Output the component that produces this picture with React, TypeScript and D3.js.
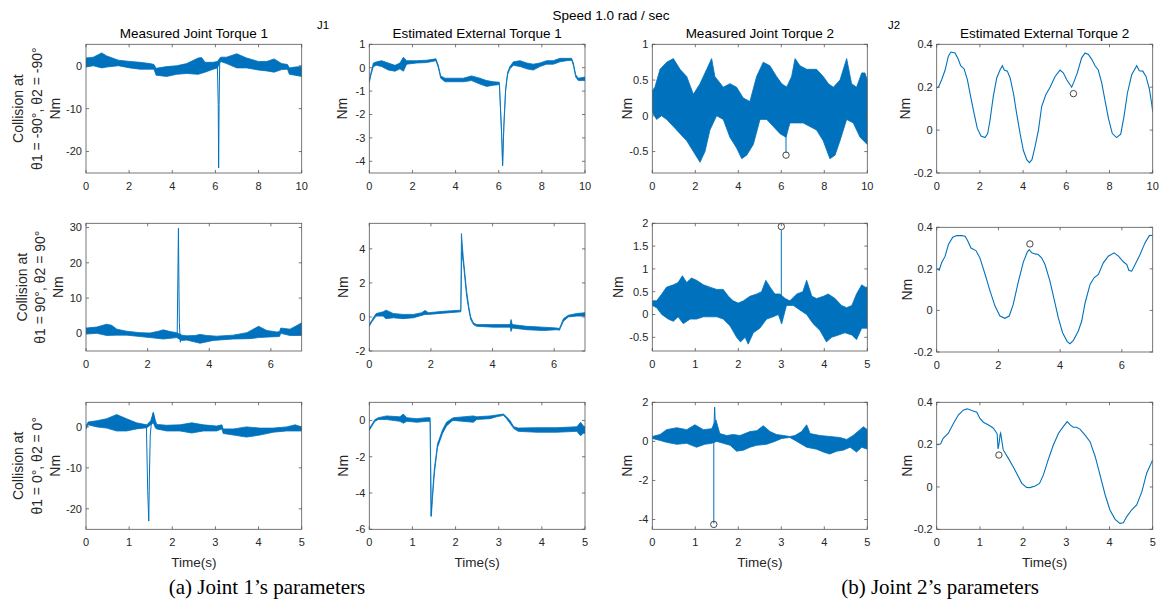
import React from 'react';
import * as d3 from 'd3';

type P = [number, number];

// ---------------- text ----------------
const figTitle = 'Speed 1.0 rad / sec';
const colTitles = ['Measured Joint Torque 1', 'Estimated External Torque 1', 'Measured Joint Torque 2', 'Estimated External Torque 2'];
const rowLabels = [
  ['Collision at', 'θ1 = -90°, θ2 = -90°', 'Nm'],
  ['Collision at', 'θ1 = 90°, θ2 = 90°', 'Nm'],
  ['Collision at', 'θ1 = 0°, θ2 = 0°', 'Nm'],
];
const captions = ['(a) Joint 1’s parameters', '(b) Joint 2’s parameters'];

// ---------------- axes domains / ticks ----------------
const xDomains: [number, number][] = [[0, 10], [0, 7], [0, 5]];
const xTicksRow = [[0, 2, 4, 6, 8, 10], [0, 2, 4, 6], [0, 1, 2, 3, 4, 5]];
const r2c3XDomain: [number, number] = [0, 5];
const r2c3XTicks = [0, 1, 2, 3, 4, 5];
const yDomains: [number, number][][] = [
  [[-25, 5], [-4.5, 1], [-0.8, 1], [-0.2, 0.4]],
  [[-5, 31.2], [-2, 5.5], [-0.8, 2], [-0.2, 0.4]],
  [[-25, 6], [-6, 1], [-4.5, 2], [-0.2, 0.4]],
];
const yTicks: number[][][] = [
  [[-20, -10, 0], [-4, -3, -2, -1, 0, 1], [-0.5, 0, 0.5, 1], [-0.2, 0, 0.2, 0.4]],
  [[0, 10, 20, 30], [-2, 0, 2, 4], [-0.5, 0, 0.5, 1, 1.5, 2], [-0.2, 0, 0.2, 0.4]],
  [[-20, -10, 0], [-6, -4, -2, 0], [-4, -2, 0, 2], [-0.2, 0, 0.2, 0.4]],
];

// ---------------- row 1 data ----------------
const r1c1Hi: P[] = [[0,1.8],[0.34,2],[0.73,3],[0.96,2.3],[1.5,1.3],[2.04,1],[2.5,0.8],[2.97,0.5],[3.15,0.3],[3.25,-0.6],[3.74,-0.2],[4.2,0],[4.67,0.5],[5.2,1.8],[5.36,1.9],[5.52,0.8],[5.9,0.8],[6.09,1],[6.24,2],[6.52,2],[6.99,2.8],[7.45,1.8],[7.99,1],[8.38,1],[8.72,1.6],[9.07,0.5],[9.34,0.3],[9.43,-0.5],[9.69,-0.3],[10,-0.2]];
const r1c1Lo: P[] = [[0,-0.3],[0.34,0],[0.73,-0.5],[0.96,-0.3],[1.5,0],[2.04,-0.5],[2.5,-0.8],[2.97,-0.8],[3.15,-0.8],[3.25,-2.2],[3.74,-2.5],[4.2,-2],[4.67,-1.8],[5.2,-2],[5.52,-1.5],[5.9,-0.8],[6.09,-0.5],[6.24,1],[6.52,0.5],[6.99,-0.5],[7.45,-0.5],[7.99,-1],[8.38,-1.2],[8.72,-1.5],[9.07,-0.9],[9.34,-0.8],[9.43,-2],[9.69,-2.2],[10,-2.5]];
const r1c1Spike: P[] = [[6.09,0.3],[6.13,-9],[6.15,-23.8],[6.17,-9],[6.2,1],[6.24,1.8]];

const r1c2Hi: P[] = [[0,-0.55],[0.08,-0.2],[0.19,0.2],[0.34,0.25],[0.57,0.3],[0.88,0.2],[1.19,0.1],[1.42,0.2],[1.58,0.45],[1.73,0.3],[2.19,0.3],[2.66,0.32],[3.09,0.38],[3.2,0.1],[3.31,-0.35],[3.51,-0.45],[3.9,-0.45],[4.36,-0.45],[4.74,-0.35],[5.13,-0.45],[5.44,-0.55],[5.75,-0.6],[6.03,-0.62],[6.14,-2.9],[6.18,-4.15],[6.24,-2.4],[6.32,-0.9],[6.41,-0.2],[6.52,0.05],[6.68,0.25],[6.99,0.3],[7.3,0.2],[7.6,0.15],[7.91,0.2],[8.22,0.3],[8.53,0.3],[8.84,0.4],[9.15,0.4],[9.38,0.4],[9.46,0.2],[9.57,-0.3],[9.69,-0.45],[10,-0.4]];
const r1c2Lo: P[] = [[0,-0.62],[0.08,-0.3],[0.19,0.05],[0.34,0.1],[0.57,0.05],[0.88,-0.1],[1.19,-0.15],[1.42,-0.05],[1.58,-0.15],[1.73,0.15],[2.19,0.2],[2.66,0.22],[3.09,0.3],[3.2,0],[3.31,-0.45],[3.51,-0.6],[3.9,-0.6],[4.36,-0.6],[4.74,-0.55],[5.13,-0.7],[5.44,-0.8],[5.75,-0.75],[6.03,-0.72],[6.14,-3],[6.18,-4.2],[6.24,-2.5],[6.32,-1.0],[6.41,-0.3],[6.52,-0.05],[6.68,0.1],[6.99,0.05],[7.3,-0.05],[7.6,-0.1],[7.91,0.05],[8.22,0.15],[8.53,0.15],[8.84,0.25],[9.15,0.3],[9.38,0.32],[9.46,0.1],[9.57,-0.4],[9.69,-0.55],[10,-0.55]];

const r1c3Hi: P[] = [[0,0.35],[0.12,0.4],[0.36,0.65],[0.67,0.75],[0.98,0.8],[1.29,0.65],[1.6,0.55],[1.91,0.3],[2.22,0.45],[2.53,0.65],[2.76,0.8],[2.91,0.55],[3.3,0.4],[3.61,0.45],[3.92,0.4],[4.23,0.25],[4.54,0.2],[4.85,0.55],[5.16,0.75],[5.47,0.7],[5.78,0.55],[6.02,0.45],[6.25,0.4],[6.48,0.55],[6.64,0.8],[6.87,0.7],[7.18,0.65],[7.64,0.65],[7.95,0.55],[8.19,0.45],[8.42,0.4],[8.73,0.5],[9.04,0.8],[9.27,0.45],[9.5,0.4],[9.74,0.6],[9.89,0.6],[10,0.5]];
const r1c3Lo: P[] = [[0,0.05],[0.2,-0.05],[0.43,0],[0.67,-0.05],[0.98,-0.15],[1.29,-0.25],[1.6,-0.35],[1.91,-0.5],[2.22,-0.65],[2.45,-0.5],[2.68,-0.2],[2.99,0],[3.3,-0.05],[3.61,-0.3],[3.92,-0.45],[4.16,-0.6],[4.39,-0.55],[4.7,-0.4],[5.01,-0.05],[5.32,-0.05],[5.63,-0.15],[5.94,-0.25],[6.22,-0.3],[6.4,-0.1],[6.71,-0.1],[7.02,-0.1],[7.33,-0.15],[7.64,-0.2],[7.95,-0.35],[8.26,-0.6],[8.5,-0.55],[8.73,-0.35],[9.04,-0.05],[9.35,-0.1],[9.66,-0.3],[10,-0.4]];
const r1c3Spike: P[] = [[6.22,0.42],[6.22,-0.52]];
const r1c3Mark: P = [6.22, -0.55];

const r1c4Line: P[] = [[0,0.196],[0.08,0.2],[0.23,0.235],[0.39,0.28],[0.54,0.345],[0.66,0.364],[0.85,0.36],[1.0,0.33],[1.11,0.3],[1.27,0.285],[1.42,0.235],[1.57,0.157],[1.73,0.078],[1.88,0.008],[2.05,-0.028],[2.24,-0.035],[2.36,-0.016],[2.47,0.047],[2.62,0.157],[2.78,0.243],[2.93,0.28],[3.04,0.3],[3.13,0.28],[3.27,0.275],[3.4,0.243],[3.55,0.173],[3.7,0.078],[3.86,-0.016],[4.01,-0.094],[4.17,-0.138],[4.29,-0.152],[4.41,-0.138],[4.55,-0.078],[4.71,0.0],[4.86,0.11],[5.05,0.165],[5.25,0.2],[5.48,0.25],[5.71,0.28],[5.86,0.267],[6.02,0.235],[6.25,0.2],[6.36,0.227],[6.51,0.267],[6.71,0.337],[6.87,0.36],[7.02,0.353],[7.18,0.33],[7.33,0.3],[7.48,0.28],[7.64,0.22],[7.79,0.14],[7.95,0.055],[8.13,-0.016],[8.33,-0.035],[8.52,-0.019],[8.67,0.063],[8.83,0.173],[9.03,0.259],[9.15,0.28],[9.26,0.3],[9.38,0.277],[9.54,0.275],[9.69,0.25],[9.85,0.19],[9.95,0.125],[10,0.086]];
const r1c4Mark: P = [6.33, 0.17];

// ---------------- row 2 data ----------------
const r2c1Hi: P[] = [[0,1.5],[0.35,1.8],[0.67,2.6],[0.83,2.3],[1.0,1.2],[1.32,0.6],[1.75,0.2],[2.08,0.1],[2.35,0.6],[2.51,1.0],[2.73,0.5],[2.94,0.2],[3.11,-0.5],[3.27,-0.7],[3.54,-0.6],[3.7,-0.3],[3.92,-0.6],[4.24,-0.8],[4.78,-0.5],[5.22,0.2],[5.6,2.0],[5.87,0.8],[6.19,0.4],[6.28,0.5],[6.32,1.5],[6.62,1.2],[6.84,2.2],[7,3.0]];
const r2c1Lo: P[] = [[0,-0.2],[0.35,0],[0.67,-0.6],[1.0,-0.5],[1.32,-0.5],[1.75,-0.9],[2.08,-1.2],[2.51,-1.6],[2.94,-1.2],[3.11,-2.0],[3.27,-1.9],[3.7,-2.8],[4.13,-2.0],[4.78,-1.6],[5.32,-1.5],[5.6,-1.2],[5.97,-1.0],[6.28,-0.9],[6.32,0],[6.62,-0.6],[7,-0.6]];
const r2c1Spike: P[] = [[2.96,0],[3.0,29.8],[3.02,10],[3.03,3],[3.06,-2.5],[3.1,-1]];

const r2c2Hi: P[] = [[0,-0.45],[0.08,-0.2],[0.22,0.2],[0.45,0.3],[0.54,0.4],[0.78,0.2],[1.1,0.15],[1.43,0.15],[1.7,0.25],[1.81,0.38],[1.92,0.25],[2.4,0.33],[2.97,0.4],[2.99,4.9],[3.05,3.5],[3.11,2.4],[3.16,1.5],[3.23,0.6],[3.29,0],[3.38,-0.35],[3.48,-0.45],[4.03,-0.45],[4.57,-0.45],[4.6,-0.15],[4.64,-0.45],[5.11,-0.55],[5.65,-0.6],[6.08,-0.65],[6.17,-0.68],[6.3,-0.1],[6.46,0.1],[6.73,0.2],[7,0.25]];
const r2c2Lo: P[] = [[0,-0.55],[0.08,-0.3],[0.22,0.05],[0.45,0.05],[0.54,-0.1],[0.78,-0.05],[1.1,-0.1],[1.43,-0.05],[1.81,0.15],[1.92,0.15],[2.4,0.22],[2.97,0.3],[3.0,3.8],[3.05,3.2],[3.11,2.1],[3.16,1.2],[3.23,0.4],[3.29,-0.15],[3.38,-0.45],[3.48,-0.55],[4.03,-0.6],[4.57,-0.6],[4.6,-0.85],[4.64,-0.65],[5.11,-0.75],[5.65,-0.8],[6.08,-0.75],[6.17,-0.78],[6.3,-0.25],[6.46,0],[6.73,0.05],[7,0.05]];

const r2c3Hi: P[] = [[0,0.3],[0.1,0.3],[0.22,0.45],[0.33,0.6],[0.49,0.65],[0.6,0.7],[0.7,0.85],[0.8,0.7],[0.91,0.8],[1.03,0.75],[1.19,0.65],[1.34,0.6],[1.5,0.55],[1.65,0.55],[1.77,0.4],[1.88,0.3],[2.0,0.25],[2.12,0.3],[2.27,0.4],[2.43,0.45],[2.54,0.5],[2.64,0.75],[2.74,0.6],[2.85,0.45],[2.97,0.45],[3.09,0.35],[3.2,0.3],[3.36,0.45],[3.5,0.5],[3.59,0.75],[3.71,0.4],[3.82,0.35],[3.98,0.4],[4.09,0.45],[4.25,0.35],[4.4,0.2],[4.52,0.15],[4.64,0.2],[4.75,0.45],[4.87,0.65],[4.95,0.6],[5,0.6]];
const r2c3Lo: P[] = [[0,0.2],[0.1,0.15],[0.22,0],[0.37,-0.1],[0.49,-0.15],[0.6,-0.05],[0.72,-0.2],[0.88,-0.1],[1.03,-0.1],[1.19,-0.05],[1.34,-0.05],[1.5,-0.05],[1.65,-0.1],[1.81,-0.25],[1.96,-0.5],[2.05,-0.6],[2.16,-0.5],[2.23,-0.65],[2.35,-0.4],[2.5,-0.3],[2.66,-0.1],[2.81,-0.05],[2.93,0],[3.01,-0.2],[3.12,0.2],[3.28,0.2],[3.43,0.1],[3.59,0],[3.74,-0.2],[3.9,-0.35],[4.05,-0.6],[4.17,-0.5],[4.33,-0.45],[4.48,-0.4],[4.64,-0.45],[4.75,-0.55],[4.87,-0.3],[5,-0.3]];
const r2c3Spike: P[] = [[3.0,-0.2],[3.0,1.85]];
const r2c3Mark: P = [3.0, 1.93];

const r2c4Line: P[] = [[0,0.2],[0.08,0.194],[0.16,0.229],[0.27,0.26],[0.38,0.317],[0.52,0.352],[0.65,0.36],[0.81,0.36],[0.92,0.357],[1.0,0.336],[1.11,0.3],[1.27,0.288],[1.4,0.253],[1.57,0.173],[1.73,0.093],[1.89,0.021],[2.05,-0.027],[2.21,-0.038],[2.35,-0.027],[2.48,0.029],[2.65,0.141],[2.81,0.234],[2.94,0.282],[3.0,0.293],[3.08,0.277],[3.19,0.272],[3.29,0.269],[3.4,0.253],[3.51,0.221],[3.67,0.141],[3.83,0.037],[3.94,-0.035],[4.08,-0.107],[4.23,-0.15],[4.32,-0.16],[4.43,-0.144],[4.59,-0.099],[4.7,-0.051],[4.81,0.037],[4.97,0.125],[5.1,0.157],[5.24,0.173],[5.4,0.229],[5.56,0.261],[5.75,0.277],[5.89,0.261],[6.05,0.234],[6.16,0.221],[6.23,0.192],[6.32,0.189],[6.43,0.221],[6.59,0.269],[6.75,0.325],[6.89,0.36],[7,0.362]];
const r2c4Mark: P = [3.02, 0.32];

// ---------------- row 3 data ----------------
const r3c1Hi: P[] = [[0,0.3],[0.05,1.2],[0.25,1.5],[0.48,2.0],[0.71,3.0],[0.94,2.0],[1.17,1.0],[1.41,0.5],[1.5,1.5],[1.56,3.5],[1.61,1.5],[1.64,0.6],[1.87,0.4],[2.18,0.5],[2.45,1.0],[2.72,0.5],[3.03,0.2],[3.15,0.5],[3.18,-0.5],[3.42,-0.5],[3.72,0],[4.03,-0.3],[4.34,-0.3],[4.65,0],[4.85,0.5],[5,0]];
const r3c1Lo: P[] = [[0,-0.5],[0.05,0.5],[0.25,0],[0.48,-0.3],[0.71,-1.0],[0.94,-1.0],[1.17,-0.5],[1.41,-0.2],[1.5,0.5],[1.56,1.0],[1.61,-0.3],[1.64,-0.5],[1.87,-1.0],[2.18,-1.0],[2.45,-1.5],[2.72,-1.0],[3.03,-1.0],[3.15,-0.5],[3.18,-1.6],[3.42,-2.0],[3.72,-2.5],[4.03,-2.0],[4.34,-1.3],[4.65,-1.0],[4.85,-1.0],[5,-1.0]];
const r3c1Spike: P[] = [[1.4,0.3],[1.43,-15.5],[1.455,-23],[1.47,-12],[1.49,-2],[1.52,1.5],[1.56,3.5],[1.6,1]];

const r3c2Hi: P[] = [[0,-0.45],[0.05,-0.25],[0.13,0.05],[0.21,0.15],[0.4,0.25],[0.71,0.2],[0.79,0.35],[0.87,0.15],[1.1,0.1],[1.33,0.15],[1.41,0.15],[1.42,-2],[1.44,-5.25],[1.46,-4.4],[1.48,-3.5],[1.51,-2.6],[1.55,-1.9],[1.58,-1.3],[1.64,-0.9],[1.7,-0.5],[1.79,-0.1],[1.91,0.1],[1.95,0.15],[2.41,0.25],[2.49,0.2],[2.8,0.25],[2.95,0.3],[3.11,0.35],[3.18,0.2],[3.26,0],[3.35,-0.35],[3.45,-0.42],[3.88,-0.4],[4.34,-0.4],[4.81,-0.35],[4.9,-0.1],[4.96,-0.3],[5,-0.35]];
const r3c2Lo: P[] = [[0,-0.55],[0.05,-0.35],[0.13,-0.05],[0.21,0.05],[0.4,0.05],[0.71,-0.05],[0.79,-0.15],[0.87,-0.05],[1.1,-0.1],[1.33,-0.05],[1.41,-0.05],[1.43,-5.3],[1.45,-4.6],[1.48,-3.8],[1.51,-2.9],[1.55,-2.1],[1.58,-1.5],[1.64,-1.1],[1.7,-0.7],[1.79,-0.3],[1.91,-0.05],[1.95,0],[2.41,-0.1],[2.49,0.05],[2.8,0.1],[2.95,0.2],[3.11,0.28],[3.18,0.1],[3.26,-0.15],[3.35,-0.45],[3.45,-0.6],[3.88,-0.65],[4.34,-0.65],[4.81,-0.6],[4.9,-0.85],[4.96,-0.7],[5,-0.7]];

const r3c3Hi: P[] = [[0,0.25],[0.18,0.35],[0.33,0.6],[0.57,0.7],[0.8,0.6],[0.99,0.85],[1.19,0.6],[1.38,0.65],[1.48,1.1],[1.57,0.4],[1.73,0.3],[1.88,0.35],[2.04,0.3],[2.27,0.5],[2.43,0.55],[2.58,0.8],[2.74,0.5],[2.89,0.35],[3.05,0.3],[3.2,0.25],[3.32,0.3],[3.47,0.5],[3.59,0.85],[3.67,0.4],[3.9,0.3],[4.13,0.25],[4.36,0.2],[4.52,0.1],[4.67,0.3],[4.83,0.6],[4.91,0.75],[5,0.6]];
const r3c3Lo: P[] = [[0,0.15],[0.18,0.05],[0.33,-0.05],[0.57,-0.15],[0.8,-0.1],[1.03,-0.3],[1.22,-0.15],[1.38,-0.1],[1.5,0],[1.65,-0.1],[1.81,-0.2],[1.96,-0.5],[2.12,-0.45],[2.27,-0.3],[2.43,-0.2],[2.66,-0.15],[2.85,0],[3.01,0.15],[3.2,0.2],[3.36,0],[3.59,-0.3],[3.82,-0.4],[3.98,-0.55],[4.13,-0.65],[4.29,-0.5],[4.44,-0.45],[4.6,-0.3],[4.75,-0.55],[4.87,-0.3],[5,-0.4]];
const r3c3Spike: P[] = [[1.43,-4.2],[1.43,0.5],[1.45,1.75],[1.47,0.6]];
const r3c3Mark: P = [1.43, -4.25];

const r3c4Line: P[] = [[0,0.202],[0.09,0.203],[0.15,0.23],[0.27,0.254],[0.39,0.301],[0.5,0.34],[0.62,0.364],[0.71,0.369],[0.81,0.361],[0.93,0.353],[1.0,0.324],[1.08,0.306],[1.2,0.293],[1.3,0.28],[1.37,0.261],[1.4,0.25],[1.42,0.18],[1.44,0.2],[1.47,0.25],[1.48,0.255],[1.54,0.175],[1.66,0.135],[1.77,0.096],[1.85,0.065],[1.97,0.017],[2.08,-0.002],[2.16,-0.003],[2.28,0.005],[2.38,0.017],[2.47,0.057],[2.58,0.128],[2.7,0.198],[2.82,0.254],[2.93,0.285],[3.02,0.309],[3.09,0.293],[3.16,0.282],[3.24,0.282],[3.32,0.272],[3.43,0.246],[3.55,0.214],[3.67,0.143],[3.78,0.057],[3.9,-0.038],[4.01,-0.109],[4.13,-0.153],[4.24,-0.172],[4.32,-0.169],[4.4,-0.14],[4.51,-0.109],[4.63,-0.085],[4.75,-0.022],[4.86,0.065],[5,0.128]];
const r3c4Mark: P = [1.44, 0.151];

// ---------------- layout & style ----------------
const BLUE = '#0072BD';
const TXT = '#262626';
const FONT = "'Liberation Sans', Arial, Helvetica, sans-serif";
const colX: [number, number][] = [[86, 301.7], [369.3, 585], [652.3, 867.3], [936.7, 1152.7]];
const rowY: [number, number][] = [[44.3, 173], [223.3, 351], [402.3, 529.3]];
const firstLabelX = [[18, 37, 55], [22, 40, 58], [18, 37, 55]];
const nmX = [[342, 627, 905], [343, 618, 907], [343, 627, 907]];

interface Spec {
  key: string;
  x0: number; x1: number; y0: number; y1: number;
  xDomain: [number, number]; yDomain: [number, number];
  xTicks: number[]; yTicks: number[];
  hi?: P[]; lo?: P[]; line?: P[]; spike?: P[]; mark?: P;
}

function Panel({ s }: { s: Spec }) {
  const x = d3.scaleLinear().domain(s.xDomain).range([s.x0, s.x1]);
  const y = d3.scaleLinear().domain(s.yDomain).range([s.y1, s.y0]);
  const gen = d3.line<P>().x(d => x(d[0])).y(d => y(d[1]));
  const band = s.hi && s.lo ? gen([...s.hi, ...s.lo.slice().reverse()]) + 'Z' : null;
  const tl = 3;
  const clipId = 'clip-' + s.key;
  return (
    <g>
      <defs>
        <clipPath id={clipId}>
          <rect x={s.x0} y={s.y0} width={s.x1 - s.x0} height={s.y1 - s.y0} />
        </clipPath>
      </defs>
      <g clipPath={`url(#${clipId})`}>
        {band && <path d={band} fill={BLUE} stroke={BLUE} strokeWidth={0.8} strokeLinejoin="round" />}
        {s.line && <path d={gen(s.line) || ''} fill="none" stroke={BLUE} strokeWidth={1.1} />}
        {s.spike && <path d={gen(s.spike) || ''} fill="none" stroke={BLUE} strokeWidth={1} />}
      </g>
      {s.mark && <circle cx={x(s.mark[0])} cy={y(s.mark[1])} r={3.2} fill="none" stroke="#333" strokeWidth={0.9} />}
      <rect x={s.x0} y={s.y0} width={s.x1 - s.x0} height={s.y1 - s.y0} fill="none" stroke="#555" strokeWidth={0.8} />
      {s.xTicks.map(t => (
        <g key={'x' + t}>
          <line x1={x(t)} x2={x(t)} y1={s.y1} y2={s.y1 - tl} stroke="#555" strokeWidth={0.8} />
          <line x1={x(t)} x2={x(t)} y1={s.y0} y2={s.y0 + tl} stroke="#555" strokeWidth={0.8} />
          <text x={x(t)} y={s.y1 + 17} textAnchor="middle" fontSize={11} fill={TXT}>{String(t)}</text>
        </g>
      ))}
      {s.yTicks.map(t => (
        <g key={'y' + t}>
          <line x1={s.x0} x2={s.x0 + tl} y1={y(t)} y2={y(t)} stroke="#555" strokeWidth={0.8} />
          <line x1={s.x1} x2={s.x1 - tl} y1={y(t)} y2={y(t)} stroke="#555" strokeWidth={0.8} />
          <text x={s.x0 - 4} y={y(t)} dy="0.35em" textAnchor="end" fontSize={11} fill={TXT}>{String(t)}</text>
        </g>
      ))}
    </g>
  );
}

export default function App() {
  const data: { hi?: P[]; lo?: P[]; line?: P[]; spike?: P[]; mark?: P }[][] = [
    [
      { hi: r1c1Hi, lo: r1c1Lo, spike: r1c1Spike },
      { hi: r1c2Hi, lo: r1c2Lo },
      { hi: r1c3Hi, lo: r1c3Lo, spike: r1c3Spike, mark: r1c3Mark },
      { line: r1c4Line, mark: r1c4Mark },
    ],
    [
      { hi: r2c1Hi, lo: r2c1Lo, spike: r2c1Spike },
      { hi: r2c2Hi, lo: r2c2Lo },
      { hi: r2c3Hi, lo: r2c3Lo, spike: r2c3Spike, mark: r2c3Mark },
      { line: r2c4Line, mark: r2c4Mark },
    ],
    [
      { hi: r3c1Hi, lo: r3c1Lo, spike: r3c1Spike },
      { hi: r3c2Hi, lo: r3c2Lo },
      { hi: r3c3Hi, lo: r3c3Lo, spike: r3c3Spike, mark: r3c3Mark },
      { line: r3c4Line, mark: r3c4Mark },
    ],
  ];
  const specs: Spec[] = [];
  data.forEach((row, r) => row.forEach((d, c) => {
    let [y0, y1] = rowY[r];
    if (r === 1 && c === 3) { y0 = 227.3; y1 = 352; }
    const xd = r === 1 && c === 2 ? r2c3XDomain : xDomains[r];
    const xt = r === 1 && c === 2 ? r2c3XTicks : xTicksRow[r];
    specs.push({
      key: `${r}${c}`, x0: colX[c][0], x1: colX[c][1], y0, y1,
      xDomain: xd, yDomain: yDomains[r][c], xTicks: xt, yTicks: yTicks[r][c], ...d,
    });
  }));

  return (
    <svg width={1161} height={604} style={{ position: 'absolute', left: 0, top: 0, background: '#fff' }} fontFamily={FONT}>
      <rect x={0} y={0} width={1161} height={604} fill="#fff" />
      <text x={611} y={20} textAnchor="middle" fontSize={13.5} fill="#000">{figTitle}</text>
      <text x={317} y={29} fontSize={11.5} fill="#000">J1</text>
      <text x={888} y={29} fontSize={11.5} fill="#000">J2</text>
      {colTitles.map((t, c) => (
        <text key={t} x={(colX[c][0] + colX[c][1]) / 2} y={38} textAnchor="middle" fontSize={13.5} fill="#000">{t}</text>
      ))}
      {specs.map(s => <Panel key={s.key} s={s} />)}
      {rowLabels.map((lines, r) => {
        const cy = (rowY[r][0] + rowY[r][1]) / 2;
        return (
          <g key={'rl' + r}>
            {lines.map((ln, i) => (
              <text key={i} transform={`translate(${firstLabelX[r][i]},${cy}) rotate(-90)`} textAnchor="middle" dominantBaseline="central" fontSize={14} fill={TXT}>{ln}</text>
            ))}
            {nmX[r].map((nx, i) => {
              const cyy = r === 1 && i === 2 ? (227.3 + 352) / 2 : cy;
              return (
                <text key={'nm' + i} transform={`translate(${nx},${cyy}) rotate(-90)`} textAnchor="middle" dominantBaseline="central" fontSize={14} fill={TXT}>Nm</text>
              );
            })}
          </g>
        );
      })}
      {colX.map((cx, c) => (
        <text key={'tx' + c} x={(cx[0] + cx[1]) / 2} y={567} textAnchor="middle" fontSize={13.5} fill={TXT}>Time(s)</text>
      ))}
      <text x={267} y={594} textAnchor="middle" fontSize={21} fontFamily="'Liberation Serif', 'Times New Roman', serif" fill="#000">{captions[0]}</text>
      <text x={940} y={594} textAnchor="middle" fontSize={21} fontFamily="'Liberation Serif', 'Times New Roman', serif" fill="#000">{captions[1]}</text>
    </svg>
  );
}
